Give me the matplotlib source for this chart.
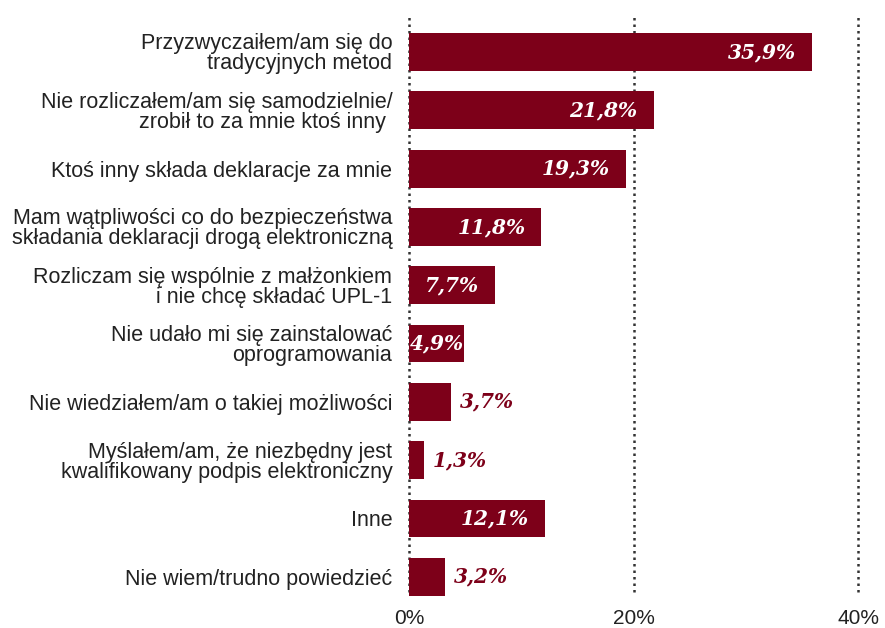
import matplotlib
matplotlib.use("Agg")
import matplotlib.pyplot as plt
import numpy as np

categories = [
    "Przyzwyczaiłem/am się do\ntradycyjnych metod",
    "Nie rozliczałem/am się samodzielnie/\nzrobił to za mnie ktoś inny ",
    "Ktoś inny składa deklaracje za mnie",
    "Mam wątpliwości co do bezpieczeństwa\nskładania deklaracji drogą elektroniczną",
    "Rozliczam się wspólnie z małżonkiem\ni nie chcę składać UPL-1",
    "Nie udało mi się zainstalować\noprogramowania",
    "Nie wiedziałem/am o takiej możliwości",
    "Myślałem/am, że niezbędny jest\nkwalifikowany podpis elektroniczny",
    "Inne",
    "Nie wiem/trudno powiedzieć",
]
values = [35.9, 21.8, 19.3, 11.8, 7.7, 4.9, 3.7, 1.3, 12.1, 3.2]
value_labels = ["35,9%", "21,8%", "19,3%", "11,8%", "7,7%", "4,9%", "3,7%", "1,3%", "12,1%", "3,2%"]
xticks = [0, 20, 40]
xtick_labels = ["0%", "20%", "40%"]

bar_color = "#7D0019"
text_color = "#222222"

fig = plt.figure(figsize=(8.85, 6.28), dpi=100)
ax = fig.add_axes([409/885, 1 - 596/628, (858 - 409)/885, (596 - 17)/628])

n = len(values)
y = np.arange(n)
ax.set_ylim(n - 1 + 0.33, -0.6)
ax.set_xlim(0, 40)

for xt in xticks:
    ax.plot([xt, xt], [n - 1 + 0.26, -0.6], linestyle=(0, (1, 1.6)), color="#333333",
            lw=1.8, zorder=1, clip_on=False, solid_capstyle="butt")

ax.barh(y, values, height=0.65, color=bar_color, zorder=2)

vfont = dict(fontsize=14.5, fontweight="heavy", fontstyle="italic", family="DejaVu Serif", zorder=3)
for yi, v, lab in zip(y, values, value_labels):
    if v >= 4.5:
        if v < 6:
            ax.text(v / 2, yi, lab, ha="center", va="center", color="white", **vfont)
        else:
            ax.annotate(lab, (v, yi), xytext=(-16, 0), textcoords="offset pixels",
                        ha="right", va="center", color="white", **vfont)
    else:
        ax.annotate(lab, (v, yi), xytext=(9, 0), textcoords="offset pixels",
                    ha="left", va="center", color=bar_color, **vfont)

ax.set_yticks(y)
ax.set_yticklabels(categories, fontsize=15.5, color=text_color, family="Liberation Sans",
                   linespacing=0.93)
ax.set_xticks(xticks)
ax.set_xticklabels(xtick_labels, fontsize=15, color=text_color, family="Liberation Sans")
ax.tick_params(axis="y", length=0, pad=12)
ax.tick_params(axis="x", length=0, pad=9)
for s in ax.spines.values():
    s.set_visible(False)

fig.savefig("out.png", dpi=100)
